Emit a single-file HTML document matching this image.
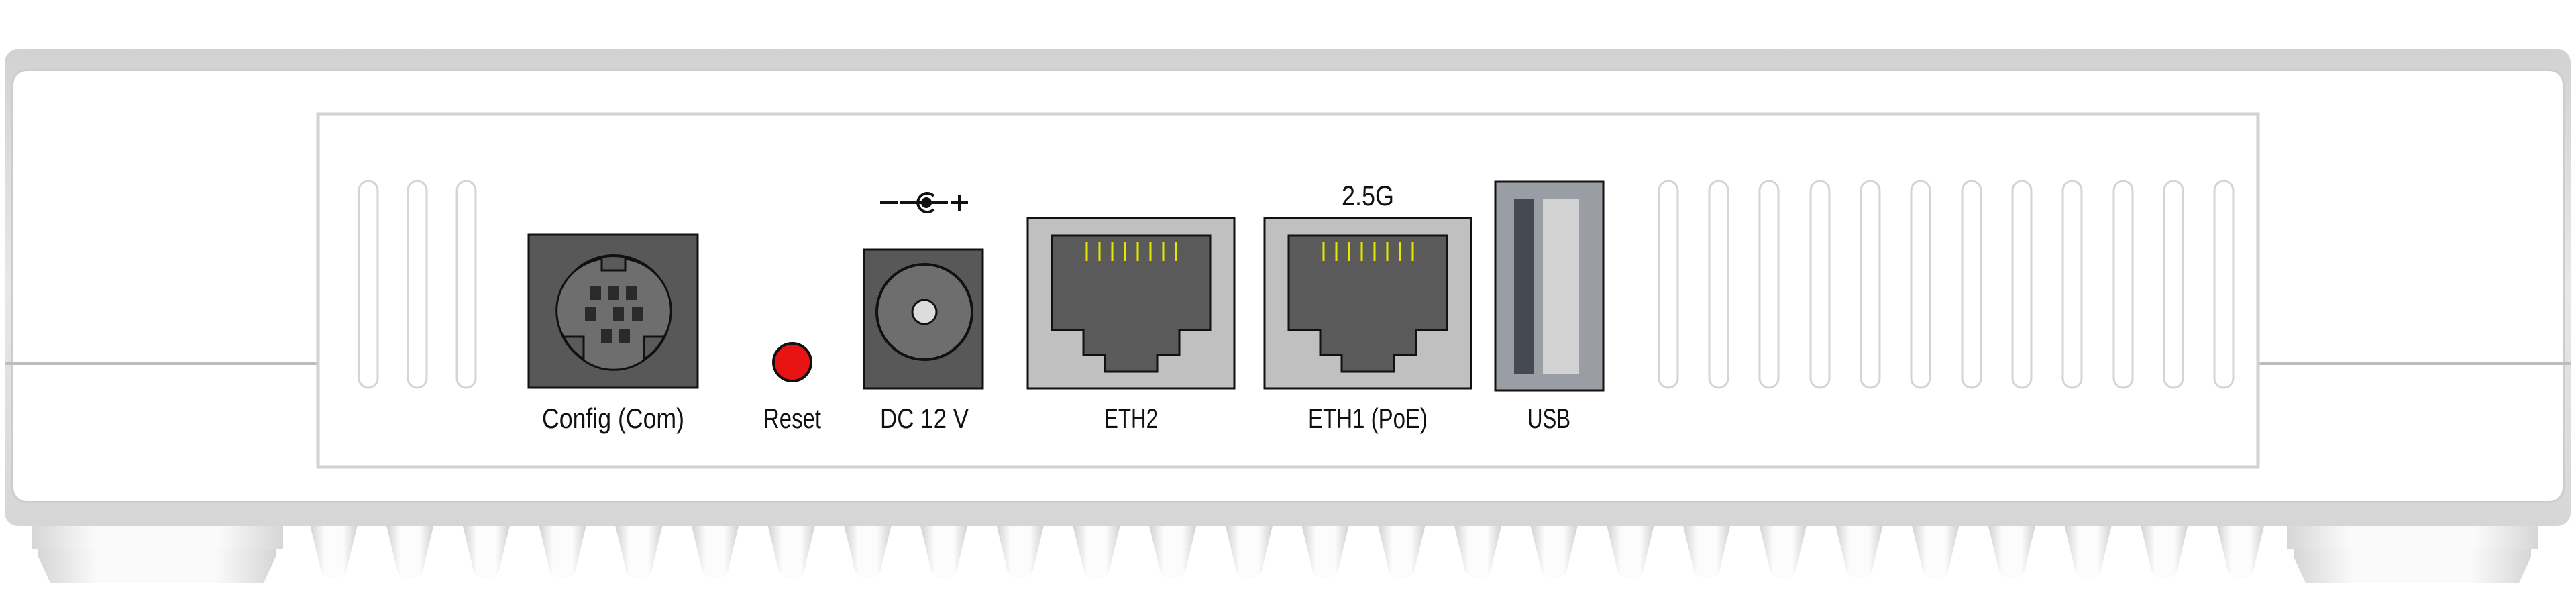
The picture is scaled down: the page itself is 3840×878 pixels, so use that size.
<!DOCTYPE html>
<html><head><meta charset="utf-8"><style>
html,body{margin:0;padding:0;background:#fff;width:3840px;height:878px;overflow:hidden}
text{font-family:"Liberation Sans",sans-serif;font-size:42px;fill:#111;text-anchor:middle}
</style></head><body>
<svg width="3840" height="878" viewBox="0 0 3840 878" xmlns="http://www.w3.org/2000/svg">
<defs>
<linearGradient id="band" x1="0" y1="0" x2="0" y2="1">
<stop offset="0" stop-color="#d2d2d2"/><stop offset="0.5" stop-color="#e8e8e8"/><stop offset="1" stop-color="#d6d6d6"/></linearGradient>
<linearGradient id="foot" x1="0" y1="0" x2="1" y2="0">
<stop offset="0" stop-color="#d6d6d6"/><stop offset="0.25" stop-color="#fafafa"/><stop offset="0.75" stop-color="#fafafa"/><stop offset="1" stop-color="#d6d6d6"/></linearGradient>
<linearGradient id="tooth" x1="0" y1="0" x2="1" y2="0">
<stop offset="0" stop-color="#d0d0d0"/><stop offset="0.3" stop-color="#fcfcfc"/><stop offset="0.7" stop-color="#fcfcfc"/><stop offset="1" stop-color="#d0d0d0"/></linearGradient>
</defs>
<g>
<rect x="47" y="782" width="375" height="37" fill="url(#foot)"/>
<path d="M57 819 L411 819 L411 830 L393 869 L75 869 L57 830 Z" fill="url(#foot)"/>
<rect x="3409" y="782" width="374" height="37" fill="url(#foot)"/>
<path d="M3419 819 L3773 819 L3773 830 L3755 869 L3437 869 L3419 830 Z" fill="url(#foot)"/>
</g>
<g id="teeth" fill="url(#tooth)">
<path id="t0" d="M462 782 L533 782 L519 840 Q517 862 497.5 862 Q478 862 476 840 Z"/>
</g>
<rect x="7" y="73" width="3825" height="711" rx="20" fill="url(#band)"/>
<rect x="17" y="103" width="3806" height="647" rx="22" fill="#cdcdcd"/>
<rect x="20" y="106" width="3800" height="641" rx="20" fill="#fff"/>
<rect x="7" y="539" width="466" height="5" fill="#bdbdbd"/>
<rect x="3367" y="539" width="465" height="5" fill="#bdbdbd"/>
<rect x="474" y="170" width="2892" height="526" fill="#fff" stroke="#d2d2d2" stroke-width="5"/>
<g fill="none" stroke="#d4d4d4" stroke-width="3">
<rect x="535" y="270" width="28" height="308" rx="14"/>
<rect x="608" y="270" width="28" height="308" rx="14"/>
<rect x="681" y="270" width="28" height="308" rx="14"/>
<rect x="2473" y="270" width="28" height="308" rx="14"/>
<rect x="2548" y="270" width="28" height="308" rx="14"/>
<rect x="2623" y="270" width="28" height="308" rx="14"/>
<rect x="2699" y="270" width="28" height="308" rx="14"/>
<rect x="2774" y="270" width="28" height="308" rx="14"/>
<rect x="2849" y="270" width="28" height="308" rx="14"/>
<rect x="2925" y="270" width="28" height="308" rx="14"/>
<rect x="3000" y="270" width="28" height="308" rx="14"/>
<rect x="3075" y="270" width="28" height="308" rx="14"/>
<rect x="3151" y="270" width="28" height="308" rx="14"/>
<rect x="3226" y="270" width="28" height="308" rx="14"/>
<rect x="3301" y="270" width="28" height="308" rx="14"/>
</g>
<rect x="788" y="350" width="252" height="228" fill="#585858" stroke="#111" stroke-width="3"/>
<circle cx="915" cy="465" r="84" fill="#5a5a5a" stroke="#111" stroke-width="4"/>
<path d="M897 386 L897 403 L932 403 L932 386 A78 78 0 0 1 990 502 L960 502 L960 537 A78 78 0 0 1 870 537 L870 502 L840 502 A78 78 0 0 1 897 386 Z" fill="#6e6e6e" stroke="#111" stroke-width="3"/>
<g fill="#2a2a2a">
<rect x="880" y="426" width="16" height="21"/><rect x="907" y="426" width="16" height="21"/><rect x="933" y="426" width="16" height="21"/>
<rect x="872" y="458" width="16" height="21"/><rect x="914" y="458" width="16" height="21"/><rect x="942" y="458" width="16" height="21"/>
<rect x="896" y="490" width="16" height="21"/><rect x="923" y="490" width="16" height="21"/>
</g>
<circle cx="1181" cy="540" r="28" fill="#e81414" stroke="#111" stroke-width="4"/>
<rect x="1288" y="372" width="177" height="207" fill="#585858" stroke="#111" stroke-width="3"/>
<circle cx="1378" cy="465" r="71" fill="#6e6e6e" stroke="#111" stroke-width="4"/>
<circle cx="1378" cy="465" r="18" fill="#dcdcdc" stroke="#111" stroke-width="3"/>
<g stroke="#111" stroke-width="4" fill="none">
<line x1="1312" y1="302" x2="1338" y2="302"/><line x1="1342" y1="302" x2="1413" y2="302"/>
<path d="M1392 292 A14 14 0 1 0 1392 312"/>
<line x1="1417" y1="302" x2="1443" y2="302"/><line x1="1430" y1="290" x2="1430" y2="315"/>
</g>
<circle cx="1381" cy="302" r="8" fill="#111"/>
<g id="eth">
<rect x="1532" y="325" width="308" height="254" fill="#c0c0c0" stroke="#111" stroke-width="3"/>
<path d="M1568 351 L1804 351 L1804 492 L1758 492 L1758 529 L1725 529 L1725 554 L1647 554 L1647 529 L1615 529 L1615 492 L1568 492 Z" fill="#5a5a5a" stroke="#111" stroke-width="3"/>
<g stroke="#e6e600" stroke-width="3">
<line x1="1620" y1="360" x2="1620" y2="389"/><line x1="1639" y1="360" x2="1639" y2="389"/><line x1="1658" y1="360" x2="1658" y2="389"/><line x1="1677" y1="360" x2="1677" y2="389"/><line x1="1696" y1="360" x2="1696" y2="389"/><line x1="1715" y1="360" x2="1715" y2="389"/><line x1="1734" y1="360" x2="1734" y2="389"/><line x1="1753" y1="360" x2="1753" y2="389"/>
</g>
</g>
<use href="#eth" x="353" y="0"/>
<rect x="2229" y="271" width="161" height="311" fill="#9a9ea4" stroke="#111" stroke-width="3"/>
<rect x="2257" y="297" width="29" height="260" fill="#454a52"/>
<rect x="2300" y="297" width="54" height="260" fill="#d2d2d2"/>
<text x="914" y="638" textLength="212" lengthAdjust="spacingAndGlyphs">Config (Com)</text>
<text x="1181" y="638" textLength="86" lengthAdjust="spacingAndGlyphs">Reset</text>
<text x="1378" y="638" textLength="132" lengthAdjust="spacingAndGlyphs">DC 12 V</text>
<text x="1686" y="638" textLength="80" lengthAdjust="spacingAndGlyphs">ETH2</text>
<text x="2039" y="638" textLength="178" lengthAdjust="spacingAndGlyphs">ETH1 (PoE)</text>
<text x="2309" y="638" textLength="64" lengthAdjust="spacingAndGlyphs">USB</text>
<text x="2039" y="306" textLength="78" lengthAdjust="spacingAndGlyphs">2.5G</text>
</svg>
<script>
(function(){var g=document.getElementById('teeth'),t=document.getElementById('t0');
for(var i=1;i<26;i++){var c=t.cloneNode();c.removeAttribute('id');c.setAttribute('transform','translate('+(i*113.7)+',0)');g.appendChild(c);}})();
</script>
</body></html>
